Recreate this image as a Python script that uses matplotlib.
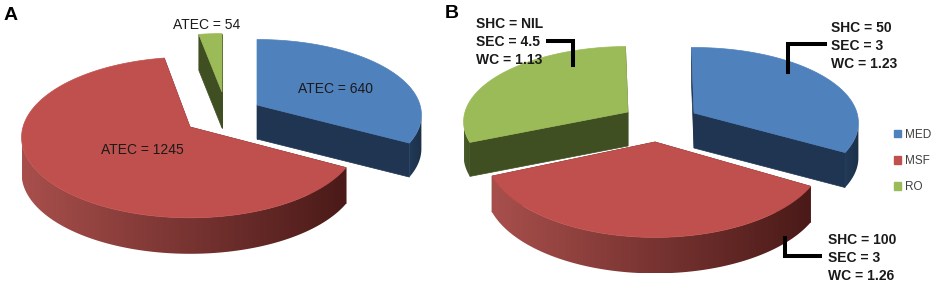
import numpy as np
import matplotlib
matplotlib.use("Agg")
from matplotlib import pyplot as plt
from matplotlib.patches import Patch, Polygon
from matplotlib.colors import to_rgb

# panel A, values are printed on the chart
a_names = ["MED", "MSF", "RO"]
a_values = [640, 1245, 54]
a_labels = ["ATEC = 640", "ATEC = 1245", "ATEC = 54"]

# panel B, slice sizes (percent)
b_names = ["MED", "MSF", "RO"]
b_values = [33.6, 35.3, 31.1]
b_labels = ["SHC = 50\nSEC = 3\nWC = 1.23", "SHC = 100\nSEC = 3\nWC = 1.26", "SHC = NIL\nSEC = 4.5\nWC = 1.13"]

TOP = {"MED": "#4f81bd", "MSF": "#c0504d", "RO": "#9bbb59"}
FACE = {"MED": "#1f3552", "MSF": "#5a211f", "RO": "#3f4f22"}
RIM_L = {"MED": "#223a58", "MSF": "#a84f4c", "RO": "#4a5c2a"}
RIM_R = {"MED": "#1c3049", "MSF": "#4a1a18", "RO": "#3f4f22"}
K = 0.13  # perspective


def project(theta, cx, cy, rx, ry):
    u = np.sin(np.radians(theta))
    v = -np.cos(np.radians(theta))
    w = 1 - K * v
    return cx + rx * u / w, cy + ry * v / w


def draw_slice(ax, name, a0, a1, cx, cy, rx, ry, depth=35):
    th = np.linspace(a0, a1, int(abs(a1 - a0)) * 2 + 2)
    x, y = project(th, cx, cy, rx, ry)
    # cut faces
    for j in [0, -1]:
        ax.fill([cx, x[j], x[j], cx], [cy, y[j], y[j] + depth, cy + depth], color=FACE[name], lw=0.5, zorder=ax.z)
    # outer rim, only the part that faces the viewer, shaded left to right
    vis = -np.cos(np.radians(th)) > K
    if vis.sum() > 1:
        xv, yv = x[vis], y[vis]
        cl, cr = np.array(to_rgb(RIM_L[name])), np.array(to_rgb(RIM_R[name]))
        grad = cl + (cr - cl) * np.linspace(0, 1, 256)[:, None]
        img = ax.imshow(grad[None, :, :], extent=(xv.min(), xv.max(), yv.max() + depth, yv.min()), aspect="auto",
                        zorder=ax.z + 0.2, interpolation="bilinear")
        rim = Polygon(np.c_[np.r_[xv, xv[::-1]], np.r_[yv, yv[::-1] + depth]], closed=True, transform=ax.transData)
        img.set_clip_path(rim)
    ax.fill(np.r_[cx, x], np.r_[cy, y], color=TOP[name], lw=0.5, zorder=ax.z + 0.5)
    ax.z += 1


def spans(values, start):
    a = start + np.cumsum(np.r_[0, values]) / np.sum(values) * 360
    return list(zip(a[:-1], a[1:]))


fig = plt.figure(figsize=(9.34, 2.84), dpi=100)
ax = fig.add_axes([0, 0, 1, 1])
ax.axis("off")
ax.z = 1

# A
s = spans(a_values, 0)
draw_slice(ax, "RO", *s[2], 222, 92, 150, 66, depth=36)
draw_slice(ax, "MED", *s[0], 257, 105, 163, 74, depth=34)
draw_slice(ax, "MSF", *s[1], 190, 127, 167, 79, depth=36)

# B
s = spans(b_values, -1)
draw_slice(ax, "MED", *s[0], 694, 113, 163, 74, depth=35)
draw_slice(ax, "RO", *s[2], 628, 112, 163, 74, depth=34)
draw_slice(ax, "MSF", *s[1], 655, 142, 168, 83, depth=36)

ax.set_xlim(0, 934)
ax.set_ylim(284, 0)

font = ["Liberation Sans", "DejaVu Sans"]
ax.text(4, 15, "A", fontsize=14, fontweight="bold", family=font, va="center", zorder=50)
ax.text(445, 13, "B", fontsize=14, fontweight="bold", family=font, va="center", zorder=50)

ax.text(335, 89, a_labels[0], fontsize=10, family=font, color="#1a1a1a", ha="center", va="center", zorder=50)
ax.text(142, 150, a_labels[1], fontsize=10, family=font, color="#1a1a1a", ha="center", va="center", zorder=50)
ax.text(207, 25, a_labels[2], fontsize=10, family=font, color="#1a1a1a", ha="center", va="center", zorder=50)

ax.text(831, 46, b_labels[0], fontsize=10, family=font, fontweight="bold", color="#1a1a1a",
        va="center", linespacing=1.33, zorder=50)
ax.text(828, 258, b_labels[1], fontsize=10, family=font, fontweight="bold", color="#1a1a1a",
        va="center", linespacing=1.33, zorder=50)
ax.text(476, 42, b_labels[2], fontsize=10, family=font, fontweight="bold", color="#1a1a1a",
        va="center", linespacing=1.33, zorder=50)

# connectors
ax.plot([825, 788, 788], [44, 44, 72], color="black", lw=2.9, solid_joinstyle="miter", zorder=40)
ax.plot([548, 573, 573], [41, 41, 65], color="black", lw=2.9, solid_joinstyle="miter", zorder=40)
ax.plot([820, 785, 785], [256, 256, 238], color="black", lw=2.9, solid_joinstyle="miter", zorder=40)

handles = [Patch(color=TOP[n], label=n) for n in b_names]
ax.legend(handles=handles, loc="center left", bbox_to_anchor=(894 / 934, 1 - 161 / 284), frameon=False,
          handlelength=0.6, handleheight=0.6, handletextpad=0.35, labelspacing=1.2, borderpad=0, borderaxespad=0,
          prop={"family": font, "size": 8.5}, labelcolor="#404040")

fig.savefig("out.png", dpi=100)
